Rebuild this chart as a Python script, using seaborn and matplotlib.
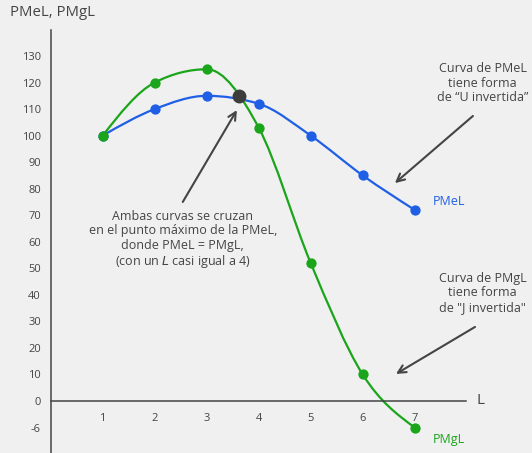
import numpy as np
import pandas as pd
import matplotlib
matplotlib.use("Agg")
import matplotlib.pyplot as plt
from matplotlib.path import Path
from matplotlib.patches import PathPatch
import seaborn as sns

# === datos ===
L = [1, 2, 3, 4, 5, 6, 7]
pmel = [100, 110, 115, 112, 100, 85, 72]
pmgl = [100, 120, 125, 103, 52, 10, -6]
cruce_L = [3.63]
cruce_y = [115]
yticks = [-6, 0, 10, 20, 30, 40, 50, 60, 70, 80, 90, 100, 110, 120, 130]
xticks = [1, 2, 3, 4, 5, 6, 7]

AZUL = "#1f5fe6"
VERDE = "#1aa51a"
GRIS = "#444444"
FONDO = "#f0f0f0"

sns.set_theme(style="white", rc={"figure.facecolor": FONDO, "axes.facecolor": FONDO})
plt.rcParams["font.family"] = ["Open Sans", "DejaVu Sans"]


# el tramo negativo del eje esta "estirado": -6 se dibuja donde iria -10
def fwd(y):
    y = np.asarray(y, dtype=float)
    return np.where(y < 0, y * 10 / 6, y)


def inv(v):
    v = np.asarray(v, dtype=float)
    return np.where(v < 0, v * 0.6, v)


def curva_suave(xs, ys):
    # cubica monotona (tipo monotoneX) -> Bezier, en el espacio ya escalado
    xs = np.asarray(xs, dtype=float)
    vs = fwd(ys)
    n = len(xs)
    h = np.diff(xs)
    s = np.diff(vs) / h
    t = np.zeros(n)
    for i in range(1, n - 1):
        p = (s[i - 1] * h[i] + s[i] * h[i - 1]) / (h[i - 1] + h[i])
        t[i] = (np.sign(s[i - 1]) + np.sign(s[i])) * min(abs(s[i - 1]), abs(s[i]), 0.5 * abs(p))
    t[0] = (3 * s[0] - t[1]) / 2
    t[-1] = (3 * s[-1] - t[-2]) / 2
    verts = [(xs[0], vs[0])]
    codes = [Path.MOVETO]
    for i in range(n - 1):
        d = h[i] / 3
        verts += [(xs[i] + d, vs[i] + d * t[i]),
                  (xs[i + 1] - d, vs[i + 1] - d * t[i + 1]),
                  (xs[i + 1], vs[i + 1])]
        codes += [Path.CURVE4] * 3
    verts = np.array(verts)
    verts[:, 1] = inv(verts[:, 1])
    return Path(verts, codes)


fig = plt.figure(figsize=(5.32, 4.53), dpi=100)
ax = fig.add_axes([0, 0, 1, 1])
ax.set_yscale("function", functions=(fwd, inv))
ax.set_xlim(-0.975, 9.256)
ax.set_ylim(-11.76, 151.1)

ax.add_patch(PathPatch(curva_suave(L, pmel), fill=False, edgecolor=AZUL, lw=1.6, zorder=2))
ax.add_patch(PathPatch(curva_suave(L, pmgl), fill=False, edgecolor=VERDE, lw=1.6, zorder=2))

df = pd.DataFrame({"L": L, "PMeL": pmel, "PMgL": pmgl})
sns.scatterplot(data=df, x="L", y="PMeL", color=AZUL, s=55, linewidth=0, zorder=3, ax=ax)
sns.scatterplot(data=df, x="L", y="PMgL", color=VERDE, s=55, linewidth=0, zorder=3, ax=ax)
sns.scatterplot(x=cruce_L, y=cruce_y, color="#3d3d3d", s=100, linewidth=0, zorder=4, ax=ax)

# ejes
for s in ["top", "right"]:
    ax.spines[s].set_visible(False)
ax.spines["left"].set_position(("data", 0))
ax.spines["bottom"].set_position(("data", 0))
ax.spines["left"].set_bounds(-11.76, 139.8)
ax.spines["bottom"].set_bounds(0, 7.99)
for s in ["left", "bottom"]:
    ax.spines[s].set_color(GRIS)
    ax.spines[s].set_linewidth(1.1)

ax.set_xticks(xticks)
ax.set_xticklabels([str(t) for t in xticks])
ax.set_yticks(yticks)
ax.set_yticklabels([str(t) for t in yticks])
ax.tick_params(axis="both", direction="inout", length=6, width=1, color=GRIS,
               labelcolor=GRIS, labelsize=8)
ax.tick_params(axis="x", pad=6)
ax.tick_params(axis="y", pad=4)
ax.set_xlabel("")
ax.set_ylabel("")

ax.text(8.26, 0, "L", fontsize=11, color=GRIS, ha="center", va="center")
fig.text(10 / 532, 1 - 12 / 453, "PMeL, PMgL", fontsize=10.7, color=GRIS, ha="left", va="center")

ax.text(7.35, 75, "PMeL", fontsize=9, color=AZUL, ha="left", va="center")
ax.text(7.35, -8.6, "PMgL", fontsize=9, color=VERDE, ha="left", va="center")

flecha = dict(arrowstyle="->", color=GRIS, lw=1.5, mutation_scale=14, shrinkA=0, shrinkB=0)
ax.annotate("", xy=(6.62, 82.1), xytext=(8.12, 107.4), arrowprops=flecha)
ax.annotate("", xy=(6.64, 10.2), xytext=(8.16, 27.9), arrowprops=flecha)
ax.annotate("", xy=(3.58, 109.6), xytext=(2.54, 75), arrowprops=flecha)

ax.text(8.31, 119.8, "Curva de PMeL\ntiene forma\nde \u201cU invertida\u201d", fontsize=9,
        color=GRIS, ha="center", va="center", linespacing=1.15)
ax.text(8.31, 40.7, "Curva de PMgL\ntiene forma\nde \"J invertida\"", fontsize=9,
        color=GRIS, ha="center", va="center", linespacing=1.15)
ax.text(2.54, 60.7, "Ambas curvas se cruzan\nen el punto m\u00e1ximo de la PMeL,\n"
        "donde PMeL = PMgL,\n(con un $L$ casi igual a 4)", fontsize=9,
        color=GRIS, ha="center", va="center", linespacing=1.15)

fig.savefig("out.png", dpi=100, facecolor=FONDO)
